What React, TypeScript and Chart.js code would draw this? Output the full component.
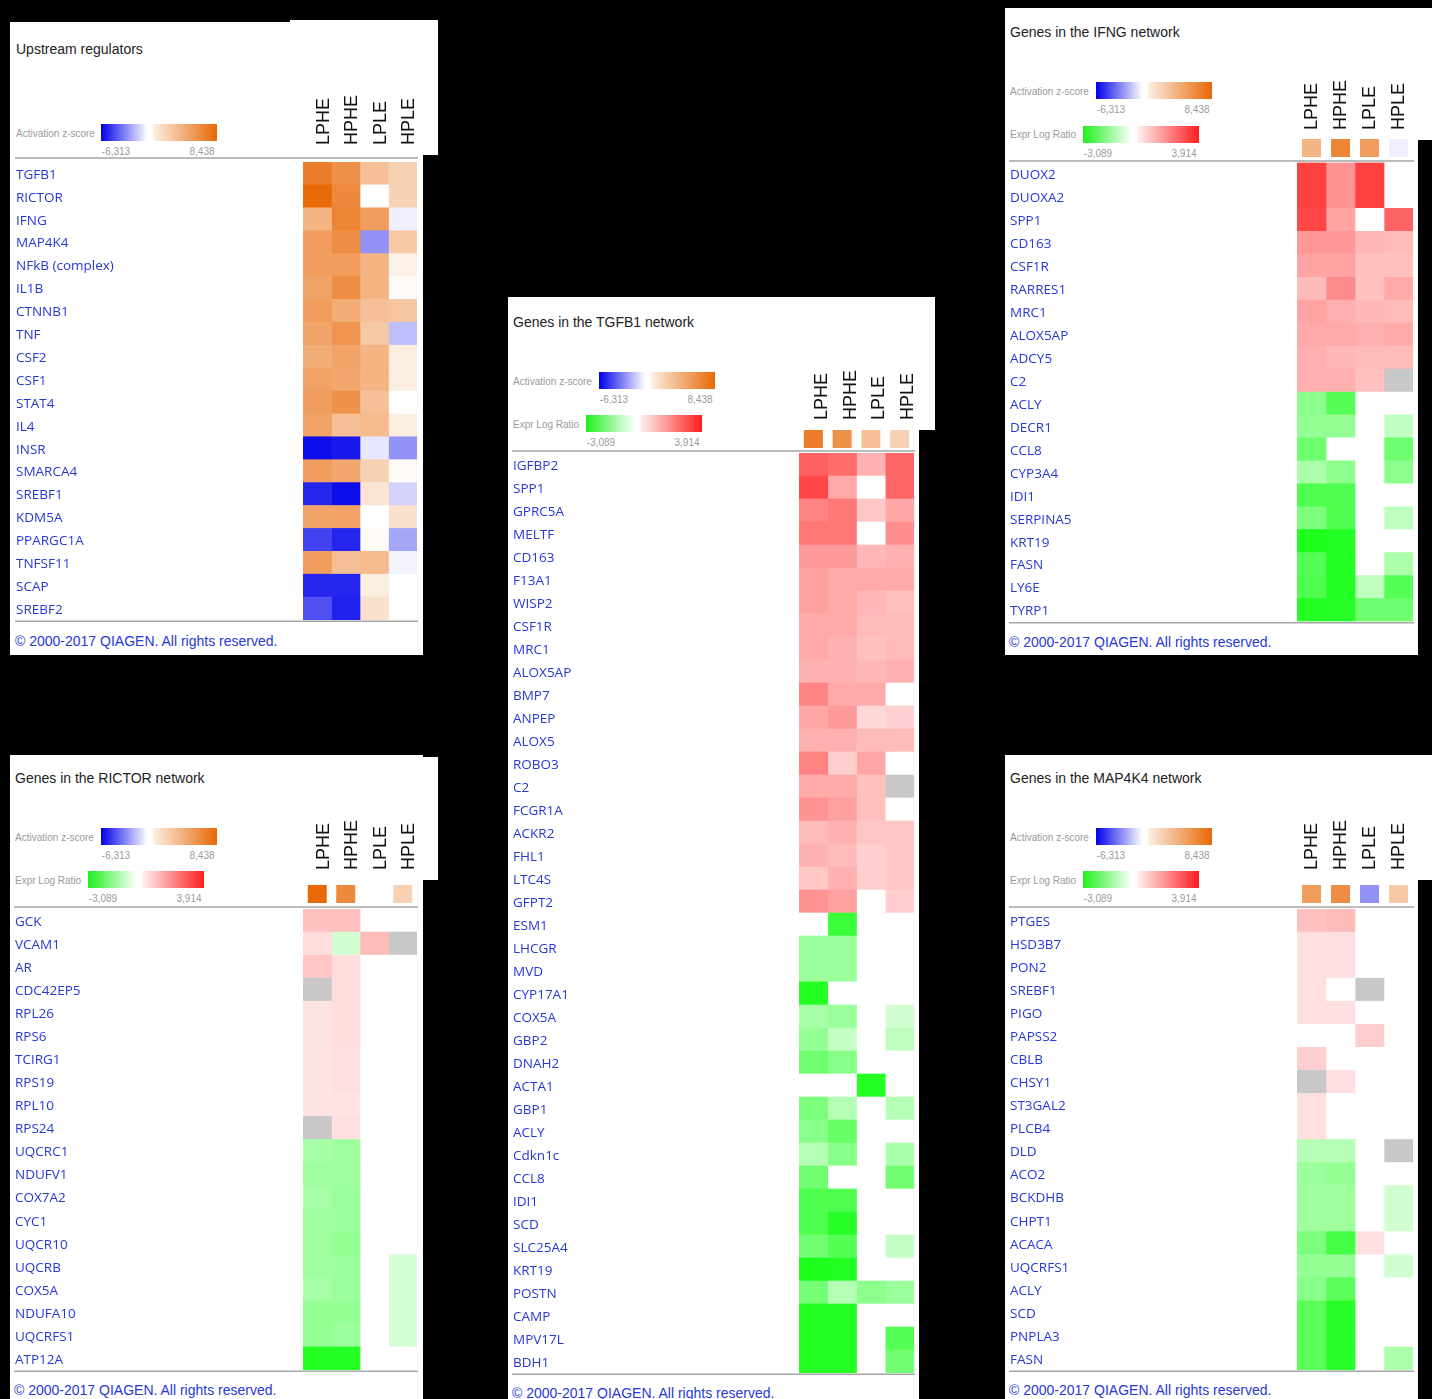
import React, { useEffect, useRef } from 'react';
import { Chart, registerables } from 'chart.js';
Chart.register(...registerables);

// ---------- data ----------
const columns = ['LPHE', 'HPHE', 'LPLE', 'HPLE'];
const actRange = [-6.313, 8.438];
const exprRange = [-3.089, 3.914];
const actTickLabels = ['-6,313', '8,438'];
const exprTickLabels = ['-3,089', '3,914'];

const upstreamGenes = ['TGFB1', 'RICTOR', 'IFNG', 'MAP4K4', 'NFkB (complex)', 'IL1B', 'CTNNB1', 'TNF', 'CSF2', 'CSF1', 'STAT4', 'IL4', 'INSR', 'SMARCA4', 'SREBF1', 'KDM5A', 'PPARGC1A', 'TNFSF11', 'SCAP', 'SREBF2'];
const upstreamZ: (number | null)[][] = [
  [7.2, 6.1, 3.5, 2.5],
  [8.4, 6.6, 0, 2.5],
  [4.2, 6.8, 5.5, -0.4],
  [5.5, 6.3, -2.7, 3.0],
  [5.5, 5.5, 4.2, 0.7],
  [5.1, 6.3, 4.2, 0.3],
  [5.5, 4.6, 3.5, 3.2],
  [5.1, 5.9, 3.1, -1.6],
  [4.6, 5.1, 4.2, 1.0],
  [5.2, 4.9, 4.2, 1.0],
  [5.5, 6.1, 3.5, 0],
  [5.2, 3.5, 3.8, 1.0],
  [-6.0, -5.7, -0.6, -2.7],
  [5.5, 4.9, 2.5, 0.3],
  [-5.4, -6.0, 1.5, -1.1],
  [5.1, 5.2, 0, 1.7],
  [-4.7, -5.4, 0.3, -2.2],
  [5.5, 3.5, 3.8, -0.3],
  [-5.4, -5.4, 1.0, 0],
  [-4.3, -5.5, 1.7, 0],
];

const ifngGenes = ['DUOX2', 'DUOXA2', 'SPP1', 'CD163', 'CSF1R', 'RARRES1', 'MRC1', 'ALOX5AP', 'ADCY5', 'C2', 'ACLY', 'DECR1', 'CCL8', 'CYP3A4', 'IDI1', 'SERPINA5', 'KRT19', 'FASN', 'LY6E', 'TYRP1'];
const ifngExpr: (number | null)[][] = [
  [3.3, 1.9, 3.3, 0],
  [3.3, 1.9, 3.3, 0],
  [3.2, 1.6, 0, 2.7],
  [1.8, 1.8, 1.25, 1.2],
  [1.6, 1.6, 1.1, 1.1],
  [1.2, 2.0, 1.1, 1.5],
  [1.6, 1.4, 1.25, 1.2],
  [1.5, 1.5, 1.4, 1.5],
  [1.4, 1.25, 1.2, 1.2],
  [1.4, 1.4, 1.1, null],
  [-1.5, -2.2, 0, 0],
  [-1.4, -1.4, 0, -0.8],
  [-1.9, 0, 0, -1.9],
  [-1.1, -1.5, 0, -1.5],
  [-2.3, -2.3, 0, 0],
  [-1.7, -2.3, 0, -0.85],
  [-2.95, -2.85, 0, 0],
  [-2.2, -2.85, 0, -1.1],
  [-2.3, -2.85, -0.85, -2.2],
  [-2.85, -2.8, -1.9, -1.9],
];

const tgfb1Genes = ['IGFBP2', 'SPP1', 'GPRC5A', 'MELTF', 'CD163', 'F13A1', 'WISP2', 'CSF1R', 'MRC1', 'ALOX5AP', 'BMP7', 'ANPEP', 'ALOX5', 'ROBO3', 'C2', 'FCGR1A', 'ACKR2', 'FHL1', 'LTC4S', 'GFPT2', 'ESM1', 'LHCGR', 'MVD', 'CYP17A1', 'COX5A', 'GBP2', 'DNAH2', 'ACTA1', 'GBP1', 'ACLY', 'Cdkn1c', 'CCL8', 'IDI1', 'SCD', 'SLC25A4', 'KRT19', 'POSTN', 'CAMP', 'MPV17L', 'BDH1'];
const tgfb1Expr: (number | null)[][] = [
  [2.75, 2.55, 1.35, 2.65],
  [3.2, 1.5, 0, 2.65],
  [2.15, 2.35, 1.0, 1.55],
  [2.35, 2.35, 0, 1.95],
  [1.75, 1.75, 1.25, 1.35],
  [1.65, 1.5, 1.5, 1.5],
  [1.65, 1.5, 1.25, 1.1],
  [1.5, 1.5, 1.2, 1.2],
  [1.5, 1.35, 1.1, 1.2],
  [1.35, 1.35, 1.25, 1.35],
  [2.15, 1.5, 1.5, 0],
  [1.55, 1.75, 0.7, 0.8],
  [1.35, 1.35, 1.2, 1.2],
  [2.15, 0.85, 1.55, 0],
  [1.5, 1.5, 1.1, null],
  [1.9, 1.65, 1.1, 0],
  [1.2, 1.35, 1.0, 1.0],
  [1.35, 1.2, 0.85, 1.0],
  [1.0, 1.35, 0.85, 1.0],
  [1.9, 1.65, 0, 0.85],
  [0, -2.6, 0, 0],
  [-1.3, -1.3, 0, 0],
  [-1.3, -1.3, 0, 0],
  [-2.85, 0, 0, 0],
  [-1.15, -1.3, 0, -0.6],
  [-1.4, -0.75, 0, -0.85],
  [-1.85, -1.55, 0, 0],
  [0, 0, -2.85, 0],
  [-1.7, -0.95, 0, -0.95],
  [-1.55, -2.0, 0, 0],
  [-0.95, -1.55, 0, -1.1],
  [-1.85, 0, 0, -1.85],
  [-2.3, -2.3, 0, 0],
  [-2.3, -2.8, 0, 0],
  [-1.85, -2.2, 0, -0.75],
  [-2.95, -2.9, 0, 0],
  [-1.8, -0.95, -1.5, -1.3],
  [-2.85, -2.85, 0, 0],
  [-2.85, -2.85, 0, -2.2],
  [-2.85, -2.85, 0, -1.85],
];

const rictorGenes = ['GCK', 'VCAM1', 'AR', 'CDC42EP5', 'RPL26', 'RPS6', 'TCIRG1', 'RPS19', 'RPL10', 'RPS24', 'UQCRC1', 'NDUFV1', 'COX7A2', 'CYC1', 'UQCR10', 'UQCRB', 'COX5A', 'NDUFA10', 'UQCRFS1', 'ATP12A'];
const rictorExpr: (number | null)[][] = [
  [1.1, 1.1, 0, 0],
  [0.6, -0.6, 1.2, null],
  [1.0, 0.6, 0, 0],
  [null, 0.6, 0, 0],
  [0.47, 0.6, 0, 0],
  [0.47, 0.6, 0, 0],
  [0.47, 0.55, 0, 0],
  [0.47, 0.55, 0, 0],
  [0.47, 0.5, 0, 0],
  [null, 0.55, 0, 0],
  [-1.15, -1.25, 0, 0],
  [-1.25, -1.25, 0, 0],
  [-1.15, -1.3, 0, 0],
  [-1.25, -1.3, 0, 0],
  [-1.25, -1.4, 0, 0],
  [-1.25, -1.3, 0, -0.55],
  [-1.15, -1.3, 0, -0.55],
  [-1.4, -1.4, 0, -0.55],
  [-1.4, -1.3, 0, -0.55],
  [-2.85, -2.85, 0, 0],
];

const map4k4Genes = ['PTGES', 'HSD3B7', 'PON2', 'SREBF1', 'PIGO', 'PAPSS2', 'CBLB', 'CHSY1', 'ST3GAL2', 'PLCB4', 'DLD', 'ACO2', 'BCKDHB', 'CHPT1', 'ACACA', 'UQCRFS1', 'ACLY', 'SCD', 'PNPLA3', 'FASN'];
const map4k4Expr: (number | null)[][] = [
  [1.1, 1.2, 0, 0],
  [0.55, 0.55, 0, 0],
  [0.55, 0.55, 0, 0],
  [0.55, 0, null, 0],
  [0.55, 0.55, 0, 0],
  [0, 0, 0.85, 0],
  [0.85, 0, 0, 0],
  [null, 0.55, 0, 0],
  [0.55, 0, 0, 0],
  [0.55, 0, 0, 0],
  [-0.95, -0.95, 0, null],
  [-1.3, -1.4, 0, 0],
  [-1.25, -1.25, 0, -0.6],
  [-1.25, -1.25, 0, -0.6],
  [-1.7, -2.45, 0.55, 0],
  [-1.4, -1.4, 0, -0.6],
  [-1.55, -2.15, 0, 0],
  [-2.15, -2.8, 0, 0],
  [-2.15, -2.8, 0, 0],
  [-2.15, -2.8, 0, -1.1],
];

// ---------- colours ----------
const BLUE = [0, 0, 235];
const ORANGE = [232, 104, 6];
const GREEN = [18, 255, 18];
const RED = [255, 30, 30];
const GRAY = 'rgb(200,200,200)';

function mix(c: number[], t: number) {
  const k = Math.max(0, Math.min(1, t));
  return `rgb(${Math.round(255 + (c[0] - 255) * k)},${Math.round(255 + (c[1] - 255) * k)},${Math.round(255 + (c[2] - 255) * k)})`;
}
function actColor(v: number | null) {
  if (v === null) return GRAY;
  return v >= 0 ? mix(ORANGE, v / actRange[1]) : mix(BLUE, v / actRange[0]);
}
function exprColor(v: number | null) {
  if (v === null) return GRAY;
  return v >= 0 ? mix(RED, v / exprRange[1]) : mix(GREEN, v / exprRange[0]);
}

// ---------- layout ----------
const LABEL_BLUE = '#2638d8';
const ARIAL = '"Liberation Sans", Arial, sans-serif';
const GENE_FONT = '"Open Sans", sans-serif';

type Panel = {
  title: string;
  genes: string[];
  values: (number | null)[][];
  kind: 'act' | 'expr';
  reg: (number | null)[] | null;
  bg: number[][];
  titleX: number; titleY: number;
  actBar: number[]; exprBar: number[] | null;
  headerBottom: number; headerShift: number;
  sqTop: number | null;
  divY: number;
  labelX: number; cellLeft: number; cellRight: number; cellTop: number; rowH: number;
  copyY: number;
};

const reg = (g: string) => upstreamZ[upstreamGenes.indexOf(g)];

const panels: Panel[] = [
  {
    title: 'Upstream regulators', genes: upstreamGenes, values: upstreamZ, kind: 'act', reg: null,
    bg: [[10, 22, 413, 633], [290, 20, 148, 135]],
    titleX: 16, titleY: 49, actBar: [101, 124], exprBar: null,
    headerBottom: 145, headerShift: 5, sqTop: null, divY: 158,
    labelX: 16, cellLeft: 303, cellRight: 417, cellTop: 162, rowH: 22.9, copyY: 641,
  },
  {
    title: 'Genes in the IFNG network', genes: ifngGenes, values: ifngExpr, kind: 'expr', reg: reg('IFNG'),
    bg: [[1005, 8, 413, 647], [1005, 8, 427, 132]],
    titleX: 1010, titleY: 32, actBar: [1096, 82], exprBar: [1083, 125.5],
    headerBottom: 130, headerShift: -1.5, sqTop: 139, divY: 161,
    labelX: 1010, cellLeft: 1297, cellRight: 1413, cellTop: 162.5, rowH: 22.95, copyY: 642,
  },
  {
    title: 'Genes in the TGFB1 network', genes: tgfb1Genes, values: tgfb1Expr, kind: 'expr', reg: reg('TGFB1'),
    bg: [[508, 297, 411, 1102], [508, 297, 427, 133]],
    titleX: 513, titleY: 322, actBar: [599, 372], exprBar: [586, 415],
    headerBottom: 420, headerShift: 7, sqTop: 430, divY: 451,
    labelX: 513, cellLeft: 799, cellRight: 914, cellTop: 453, rowH: 23.0, copyY: 1393,
  },
  {
    title: 'Genes in the RICTOR network', genes: rictorGenes, values: rictorExpr, kind: 'expr', reg: reg('RICTOR'),
    bg: [[10, 755, 413, 644], [290, 757, 148, 123]],
    titleX: 15, titleY: 778, actBar: [101, 828], exprBar: [88, 871],
    headerBottom: 870, headerShift: 5, sqTop: 885, divY: 907,
    labelX: 15, cellLeft: 303, cellRight: 417, cellTop: 909, rowH: 23.05, copyY: 1390,
  },
  {
    title: 'Genes in the MAP4K4 network', genes: map4k4Genes, values: map4k4Expr, kind: 'expr', reg: reg('MAP4K4'),
    bg: [[1005, 755, 413, 644], [1005, 755, 427, 125]],
    titleX: 1010, titleY: 778, actBar: [1096, 828], exprBar: [1083, 871],
    headerBottom: 870, headerShift: -1.5, sqTop: 885, divY: 907,
    labelX: 1010, cellLeft: 1297, cellRight: 1413, cellTop: 909, rowH: 23.05, copyY: 1390,
  },
];

function bbox(p: Panel) {
  const x0 = Math.min(...p.bg.map(r => r[0]));
  const y0 = Math.min(...p.bg.map(r => r[1]));
  const x1 = Math.max(...p.bg.map(r => r[0] + r[2]));
  const y1 = Math.max(...p.bg.map(r => r[1] + r[3]));
  return { x: x0, y: y0, w: x1 - x0, h: y1 - y0 };
}

function Heatmap({ p }: { p: Panel }) {
  const ref = useRef<HTMLCanvasElement>(null);
  useEffect(() => {
    const b = bbox(p);
    const colorFn = p.kind === 'act' ? actColor : exprColor;
    const cellBottom = p.cellTop + p.genes.length * p.rowH;
    const decor = {
      id: 'decor',
      afterDraw(chart: any) {
        const ctx = chart.ctx;
        const xs = chart.scales.x;
        const ys = chart.scales.y;
        ctx.save();
        ctx.strokeStyle = '#a6a6a6';
        ctx.lineWidth = 1.5;
        ctx.beginPath();
        ctx.moveTo(p.labelX - 1 - b.x, p.divY - b.y);
        ctx.lineTo(xs.right + 1, p.divY - b.y);
        ctx.moveTo(p.labelX - 1 - b.x, ys.bottom + 1.2);
        ctx.lineTo(xs.right + 1, ys.bottom + 1.2);
        ctx.stroke();
        columns.forEach((c, i) => {
          const cx = xs.getPixelForValue(i + 0.5);
          ctx.save();
          ctx.translate(cx + p.headerShift + 6.5, p.headerBottom - b.y);
          ctx.rotate(-Math.PI / 2);
          ctx.font = `18px ${ARIAL}`;
          ctx.fillStyle = '#111';
          ctx.textAlign = 'left';
          ctx.textBaseline = 'alphabetic';
          ctx.fillText(c, 0, 0);
          ctx.restore();
          if (p.reg && p.sqTop !== null && p.reg[i] !== 0) {
            ctx.fillStyle = actColor(p.reg[i]);
            ctx.fillRect(cx - 9.5, p.sqTop - b.y, 19, 18);
          }
        });
        ctx.restore();
      },
    };
    const chart = new Chart(ref.current as HTMLCanvasElement, {
      type: 'bar',
      data: {
        labels: p.genes,
        datasets: columns.map((col, ci) => ({
          label: col,
          data: p.genes.map(() => 1),
          backgroundColor: p.values.map(r => colorFn(r[ci])),
          borderWidth: 0,
          barPercentage: 1,
          categoryPercentage: 1,
        })),
      },
      options: {
        indexAxis: 'y',
        animation: false,
        responsive: false,
        devicePixelRatio: 1,
        events: [],
        layout: {
          padding: {
            left: p.labelX - b.x,
            right: b.w - (p.cellRight - b.x),
            top: p.cellTop - b.y,
            bottom: b.h - (cellBottom - b.y),
          },
        },
        plugins: { legend: { display: false }, title: { display: false }, tooltip: { enabled: false } },
        scales: {
          x: { type: 'linear', stacked: true, min: 0, max: columns.length, display: false },
          y: {
            type: 'category',
            stacked: true,
            grid: { display: false },
            border: { display: false },
            afterFit: (s: any) => { s.width = p.cellLeft - p.labelX; },
            ticks: {
              autoSkip: false,
              crossAlign: 'far',
              padding: 0,
              labelOffset: 1.5,
              color: LABEL_BLUE,
              font: { family: GENE_FONT, size: 13.5 },
            },
          },
        },
      },
      plugins: [decor],
    } as any);
    return () => chart.destroy();
  }, [p]);
  const b = bbox(p);
  return (
    <canvas
      ref={ref}
      width={b.w}
      height={b.h}
      style={{ position: 'absolute', left: b.x, top: b.y, width: b.w, height: b.h }}
    />
  );
}

function Txt({ x, y, size, color, family, children, center }: any) {
  return (
    <div
      style={{
        position: 'absolute',
        left: center ? x - 60 : x,
        width: center ? 120 : undefined,
        textAlign: center ? 'center' : 'left',
        top: y,
        transform: 'translateY(-50%)',
        fontSize: size,
        lineHeight: 1,
        color,
        fontFamily: family,
        whiteSpace: 'nowrap',
      }}
    >
      {children}
    </div>
  );
}

function LegendRow({ x, y, labelX, label, kind }: any) {
  const w = 116;
  const h = 17;
  const grad =
    kind === 'act'
      ? `linear-gradient(to right, rgb(${BLUE.join(',')}) 0%, #ffffff 40%, #ffffff 44%, rgb(252,236,222) 46%, rgb(${ORANGE.join(',')}) 100%)`
      : `linear-gradient(to right, rgb(30,240,30) 0%, #ffffff 42%, #ffffff 46%, rgb(255,236,236) 48%, rgb(${RED.join(',')}) 100%)`;
  const ticks = kind === 'act' ? actTickLabels : exprTickLabels;
  return (
    <>
      <Txt x={labelX} y={y + h / 2 + 1} size={10} color="#9a9a9a" family={ARIAL}>{label}</Txt>
      <div style={{ position: 'absolute', left: x, top: y, width: w, height: h, background: grad }} />
      <Txt x={x + 15} y={y + h + 11} size={10} color="#9a9a9a" family={ARIAL} center>{ticks[0]}</Txt>
      <Txt x={x + w - 15} y={y + h + 11} size={10} color="#9a9a9a" family={ARIAL} center>{ticks[1]}</Txt>
    </>
  );
}

export default function App() {
  useEffect(() => {
    document.body.style.margin = '0';
    document.body.style.background = '#000';
  }, []);
  return (
    <div style={{ position: 'absolute', left: 0, top: 0, width: 1432, height: 1399, background: '#000', overflow: 'hidden' }}>
      {panels.map((p, pi) => (
        <React.Fragment key={pi}>
          {p.bg.map((r, ri) => (
            <div key={ri} style={{ position: 'absolute', left: r[0], top: r[1], width: r[2], height: r[3], background: '#fff' }} />
          ))}
        </React.Fragment>
      ))}
      {panels.map((p, pi) => (
        <React.Fragment key={'t' + pi}>
          <Txt x={p.titleX} y={p.titleY} size={14} color="#222" family={ARIAL}>{p.title}</Txt>
          <LegendRow x={p.actBar[0]} y={p.actBar[1]} labelX={p.labelX} label="Activation z-score" kind="act" />
          {p.exprBar && <LegendRow x={p.exprBar[0]} y={p.exprBar[1]} labelX={p.labelX} label="Expr Log Ratio" kind="expr" />}
          <Txt x={p.labelX - 1} y={p.copyY} size={14} color={LABEL_BLUE} family={ARIAL}>© 2000-2017 QIAGEN. All rights reserved.</Txt>
          <Heatmap p={p} />
        </React.Fragment>
      ))}
    </div>
  );
}
